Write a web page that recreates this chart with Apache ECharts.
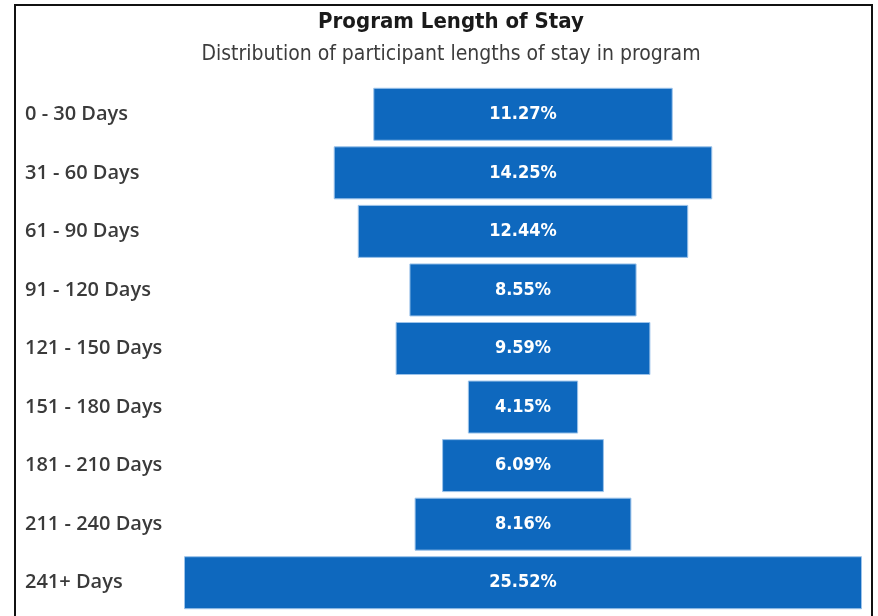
<!DOCTYPE html>
<html><head><meta charset="utf-8">
<script src="https://cdn.jsdelivr.net/npm/echarts@6/dist/echarts.min.js"></script>
<style>html,body{margin:0;padding:0;background:#fff}#c{width:878px;height:616px}</style>
</head><body><div id="c"></div>
<script>
const categories = ['0 - 30 Days','31 - 60 Days','61 - 90 Days','91 - 120 Days','121 - 150 Days','151 - 180 Days','181 - 210 Days','211 - 240 Days','241+ Days'];
const values = [11.27, 14.25, 12.44, 8.55, 9.59, 4.15, 6.09, 8.16, 25.52];
const maxVal = Math.max(...values);
const spacer = values.map(v => (maxVal - v) / 2);

const chart = echarts.init(document.getElementById('c'), null, {renderer:'canvas'});
chart.setOption({
  animation:false,
  title:{
    text:'Program Length of Stay',
    subtext:'Distribution of participant lengths of stay in program',
    left:446, textAlign:'center', top:6, itemGap:11,
    textStyle:{fontFamily:'DejaVu Sans Condensed', fontWeight:'bold', fontSize:22, color:'#1a1a1a'},
    subtextStyle:{fontFamily:'DejaVu Sans Condensed', fontSize:21, color:'#3c3c3c'}
  },
  graphic:[{type:'rect', shape:{x:15,y:5,width:857,height:640}, style:{fill:'none', stroke:'#111', lineWidth:2}}],
  grid:{left:184, right:16, top:85, bottom:4},
  xAxis:{type:'value', min:0, max:maxVal, show:false},
  yAxis:{type:'category', data:categories, inverse:true,
    axisLine:{show:false}, axisTick:{show:false},
    axisLabel:{align:'left', margin:159, fontFamily:'Open Sans', fontWeight:600, fontSize:20, color:'#3a3a3a'}},
  series:[
    {type:'bar', stack:'s', data:spacer, itemStyle:{color:'transparent'}, barWidth:53, silent:true},
    {type:'bar', stack:'s', data:values, barWidth:53,
      itemStyle:{color:'#0E68BE', borderColor:'#9cc3ea', borderWidth:1},
      label:{show:true, position:'inside', formatter:p=>p.value.toFixed(2)+'%',
        fontFamily:'DejaVu Sans Condensed', fontWeight:'bold', fontSize:18, color:'#fff'}}
  ]
});
</script></body></html>
